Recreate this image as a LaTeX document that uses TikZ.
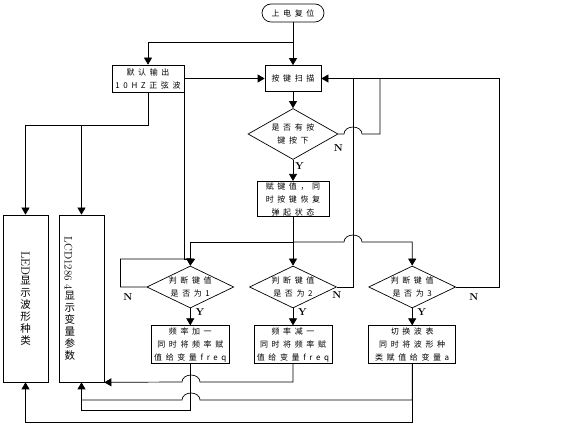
\documentclass[tikz,border=0pt]{standalone}
\usepackage{fontspec}
\usepackage{graphicx}
\newfontfamily\cjk[LetterSpace=45]{Noto Sans CJK SC}
\newfontfamily\cjkv{Noto Sans CJK SC}
\usetikzlibrary{positioning,shapes.geometric,arrows.meta}
\tikzstyle{block}=[rectangle, draw=black, line width=0.7pt, text centered, align=center,
        inner sep=1pt, font=\cjk\fontsize{8}{13}\selectfont]
\tikzstyle{terminal}=[block, rounded corners=9pt, minimum width=62pt, minimum height=18pt]
\tikzstyle{decide}=[diamond, draw=black, line width=0.7pt, align=center, inner sep=-1.5pt,
        font=\cjk\fontsize{8}{13}\selectfont]
\tikzstyle{choice}=[decide, aspect=2.07, minimum width=87pt, minimum height=42pt]
\tikzstyle{panel}=[rectangle, draw=black, line width=0.7pt, minimum width=45pt, minimum height=167pt,
        inner sep=2pt, font=\cjkv\fontsize{10.5}{12}\selectfont]
\tikzstyle{line}=[draw, line width=0.7pt]
\tikzstyle{arrow}=[line, -{Triangle[width=8pt,length=7pt]}]
\tikzstyle{yn}=[font=\bfseries\fontsize{10}{10}\selectfont, inner sep=0pt]

\begin{document}
\begin{tikzpicture}[x=1pt, y=1pt, node distance=17pt]
        \useasboundingbox (0,0) rectangle (576,436);
        \node (Power) [terminal] at (293,423) {上电复位};
        \node (Default) [block, minimum width=72pt, minimum height=27pt] at (148,357.5) {默认输出\\10HZ正弦波};
        \node (Scan) [block, minimum width=56pt, minimum height=26pt] at (293,357.5) {按键扫描};
        \node (Press) [decide, aspect=1.76, minimum width=90pt, minimum height=51pt] at (293,302) {是否有按\\键按下};
        \node (Keyval) [block, minimum width=72pt, minimum height=32pt] at (293,237) {赋键值，同\\时按键恢复\\弹起状态};
        \node (Two) [choice] at (293,149) {判断键值\\是否为2};
        \node (One) [choice, left=15pt of Two] {判断键值\\是否为1};
        \node (Three) [choice, right=31.5pt of Two] {判断键值\\是否为3};
        \node (Inc) [block, minimum width=78pt, minimum height=38pt, below=of One] {频率加一\\同时将频率赋\\值给变量freq};
        \node (Dec) [block, minimum width=78pt, minimum height=38pt, below=of Two] {频率减一\\同时将频率赋\\值给变量freq};
        \node (Wave) [block, minimum width=87pt, minimum height=38pt, below=of Three] {切换波表\\同时将波形种\\类赋值给变量a};
        \node (LED) [panel, align=center] at (25.5,137.5)
        {
          \rotatebox{-90}{\rmfamily\fontsize{12}{12}\selectfont LED}\\显\\示\\波\\形\\种\\类
        };
        \node (LCD) [panel, align=left, text width=34pt] at (81.5,137.5)
        {
          \rotatebox{-90}{\rmfamily\fontsize{11}{11}\selectfont LCD1286 4}\\显\\示\\变\\量\\参\\数
        };

        \coordinate (split) at (293,394);
        \coordinate (fork) at (81.5,311);
        \coordinate (loop) at (191,177);
        \coordinate (bus) at (293,194);
        \coordinate (back1) at (380,357.5);
        \coordinate (back2) at (353,357.5);
        \coordinate (join) at (81.5,36);

        \draw[arrow] (Power) -- (Scan);
        \draw[arrow] (split) -| (Default);
        \draw[arrow] (Default) -- (Scan);
        \draw[arrow] (Default.south) -- ++(0,-33) -| (LED.north);
        \draw[arrow] (fork) -- (LCD.north);
        \draw[line] (Default.east) |- (loop);
        \draw[arrow] (Scan) -- (Press);
        \draw[arrow] (Press) -- (Keyval);
        \draw[line] (Press.east) -- (344,302) arc[start angle=180, end angle=0, x radius=9, y radius=7] -| (back1);
        \draw[arrow] (Keyval) -- (Two);
        \draw[arrow] (bus) -| (One.north);
        \draw[arrow] (bus) -- (344,194) arc[start angle=180, end angle=0, x radius=9, y radius=7] -| (Three.north);
        \draw[arrow] (One.west) -- ++(-26,0) |- (loop) -- (One.north);
        \draw[line] (Two.east) -| (back2);
        \draw[arrow] (Three.east) -- ++(43,0) |- (Scan.east);
        \draw[arrow] (One) -- (Inc);
        \draw[arrow] (Two) -- (Dec);
        \draw[arrow] (Three) -- (Wave);
        \draw[arrow] (Inc.south) -- ++(0,-46.5) -| (LCD.south);
        \draw[arrow] (Dec.south) |- (200,54) arc[start angle=0, end angle=180, x radius=9, y radius=7] -- (LCD.south east);
        \draw[line] (Wave.south) |- (200,36) arc[start angle=0, end angle=180, x radius=9, y radius=7] -- (join);
        \draw[arrow] (Wave.south) -- ++(0,-58) -| (LED.south);

        \node (pressN) [yn, below=10pt of Press.east] {N};
        \node (pressY) [yn, below right=3pt and 2pt of Press.south] {Y};
        \node (oneN) [yn, below left=6pt and 14pt of One.west] {N};
        \node (oneY) [yn, below right=0pt and 5pt of One.south] {Y};
        \node (twoN) [yn, below=4pt of Two.east] {N};
        \node (twoY) [yn, below right=0pt and 5pt of Two.south] {Y};
        \node (threeN) [yn, below right=6pt and 13pt of Three.east] {N};
        \node (threeY) [yn, below right=0pt and 5pt of Three.south] {Y};
\end{tikzpicture}
\end{document}
